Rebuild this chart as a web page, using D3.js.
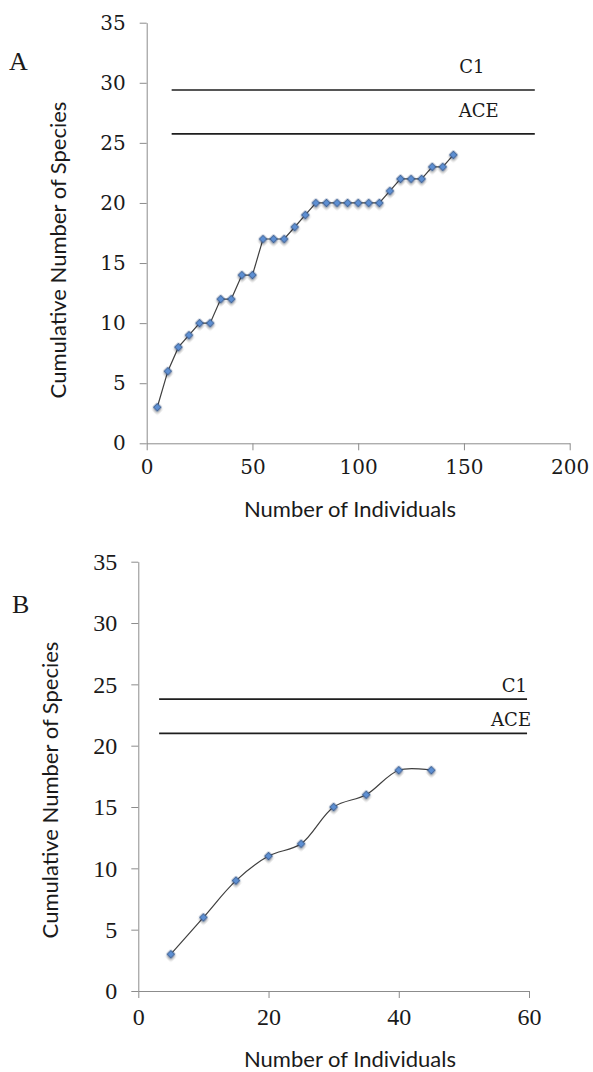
<!DOCTYPE html>
<meta charset="utf-8">
<style>
body { margin: 0; background: #fff; }
.axis path, .axis line { stroke: #8c8c8c; }
.axis text { fill: #1a1a1a; }
.series { fill: none; stroke: #3f3f3f; stroke-width: 1.2px; }
.ref { stroke: #1e1e1e; stroke-width: 1.6px; }
.marker { fill: #5d8fd3; stroke: #2b4a78; stroke-width: 0.8px; }
</style>
<svg width="593" height="1072"></svg>
<script src="https://cdn.jsdelivr.net/npm/d3@7"></script>
<script>

// panel A data
var individualsA = [5, 10, 15, 20, 25, 30, 35, 40, 45, 50, 55, 60, 65, 70, 75,
                    80, 85, 90, 95, 100, 105, 110, 115, 120, 125, 130, 135, 140, 145];
var speciesA = [3, 6, 8, 9, 10, 10, 12, 12, 14, 14, 17, 17, 17, 18, 19,
                20, 20, 20, 20, 20, 20, 20, 21, 22, 22, 22, 23, 23, 24];
var xTicksA = [0, 50, 100, 150, 200];

// panel B data
var individualsB = [5, 10, 15, 20, 25, 30, 35, 40, 45];
var speciesB = [3, 6, 9, 11, 12, 15, 16, 18, 18];
var xTicksB = [0, 20, 40, 60];

var yTicks = [0, 5, 10, 15, 20, 25, 30, 35];

// estimator lines (C1 above, ACE below)
var refLabels = ["C1", "ACE"];
var refA = [29.4, 25.75];
var refB = [23.8, 21.0];
var refSpanA = [11.8, 183.5];
var refSpanB = [3.2, 59.7];

var svg = d3.select("svg");

// marker shadow
var defs = svg.append("defs");
defs.append("filter")
    .attr("id", "shadow")
    .attr("x", "-50%").attr("y", "-50%").attr("width", "200%").attr("height", "200%")
  .append("feDropShadow")
    .attr("dx", 1.5).attr("dy", 1.5).attr("stdDeviation", 1)
    .attr("flood-color", "#000").attr("flood-opacity", 0.35);

function drawPanel(p) {
  var g = svg.append("g");

  var x = d3.scaleLinear().domain(p.xDomain).range(p.xRange),
      y = d3.scaleLinear().domain([0, 35]).range(p.yRange);

  // x axis
  var xa = g.append("g")
      .attr("class", "axis")
      .attr("transform", "translate(0," + p.yRange[0] + ")")
      .call(d3.axisBottom(x).tickValues(p.xTicks).tickSize(7).tickSizeOuter(0).tickPadding(p.xPad));
  xa.selectAll("text").style("font", p.tickFont);

  // y axis
  var ya = g.append("g")
      .attr("class", "axis")
      .attr("transform", "translate(" + p.xRange[0] + ",0)")
      .call(d3.axisLeft(y).tickValues(yTicks).tickSize(7).tickSizeOuter(0).tickPadding(p.yPad));
  ya.selectAll("text").style("font", p.tickFont);

  // horizontal estimator lines
  g.selectAll(".ref")
    .data(p.refs)
    .enter().append("line")
      .attr("class", "ref")
      .attr("x1", x(p.refSpan[0]))
      .attr("x2", x(p.refSpan[1]))
      .attr("y1", function(d) { return y(d); })
      .attr("y2", function(d) { return y(d); });

  g.selectAll(".refLabel")
    .data(p.refs)
    .enter().append("text")
      .attr("class", "refLabel")
      .attr("x", function(d, i) { return x(p.refSpan[1]) + p.labelDx[i]; })
      .attr("y", function(d) { return y(d) - p.labelDy; })
      .attr("text-anchor", p.labelAnchor)
      .style("font", "18px 'DejaVu Serif'")
      .style("fill", "#1a1a1a")
      .text(function(d, i) { return refLabels[i]; });

  // the accumulation curve
  var pts = p.xs.map(function(v, i) { return [v, p.ys[i]]; });
  var line = d3.line()
      .curve(p.curve)
      .x(function(d) { return x(d[0]); })
      .y(function(d) { return y(d[1]); });

  g.append("path")
      .datum(pts)
      .attr("class", "series")
      .attr("d", line);

  g.selectAll(".marker")
    .data(pts)
    .enter().append("path")
      .attr("class", "marker")
      .attr("filter", "url(#shadow)")
      .attr("d", d3.symbol(d3.symbolSquare, 32))
      .attr("transform", function(d) { return "translate(" + x(d[0]) + "," + y(d[1]) + ") rotate(45)"; });

  // axis titles
  g.append("text")
      .attr("x", p.xTitle[0])
      .attr("y", p.xTitle[1])
      .attr("text-anchor", "middle")
      .style("font", "22px Lato")
      .style("fill", "#1a1a1a")
      .text("Number of Individuals");

  g.append("text")
      .attr("transform", "translate(" + p.yTitle[0] + "," + p.yTitle[1] + ") rotate(-90)")
      .attr("text-anchor", "middle")
      .style("font", "22px Lato")
      .style("fill", "#1a1a1a")
      .text("Cumulative Number of Species");

  // panel letter
  g.append("text")
      .attr("x", p.letter[0])
      .attr("y", p.letter[1])
      .style("font", "26px 'Liberation Serif'")
      .style("fill", "#1a1a1a")
      .text(p.name);
}

drawPanel({
  name: "A", letter: [9, 70],
  xs: individualsA, ys: speciesA, xDomain: [0, 200], xTicks: xTicksA,
  xRange: [146.7, 569.7], yRange: [443.3, 22.7],
  refs: refA, refSpan: refSpanA,
  labelDx: [-63, -56], labelDy: 17, labelAnchor: "middle",
  curve: d3.curveLinear,
  tickFont: "20px 'DejaVu Serif'", xPad: 10, yPad: 14,
  xTitle: [350, 517], yTitle: [66, 250]
});

drawPanel({
  name: "B", letter: [12, 613],
  xs: individualsB, ys: speciesB, xDomain: [0, 60], xTicks: xTicksB,
  xRange: [138.3, 529], yRange: [991, 561.7],
  refs: refB, refSpan: refSpanB,
  labelDx: [0, 4], labelDy: 7, labelAnchor: "end",
  curve: d3.curveCatmullRom,
  tickFont: "24px 'Liberation Serif'", xPad: 10, yPad: 14,
  xTitle: [350, 1067], yTitle: [58, 790]
});

</script>
